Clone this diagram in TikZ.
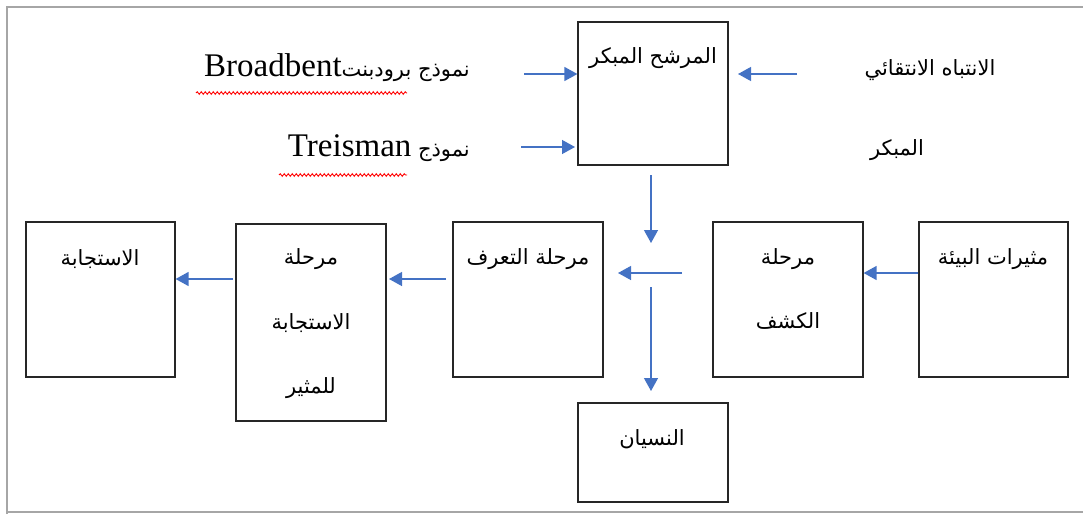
\documentclass[tikz,border=0pt]{standalone}
\usepackage{fontspec}
\setmainfont{Liberation Serif}
\newfontfamily\arabicfont[Script=Arabic]{DejaVu Sans}
\TeXXeTstate=1
\usetikzlibrary{arrows.meta,decorations.pathmorphing}
\definecolor{arrblue}{HTML}{4472C4}
\definecolor{framegray}{HTML}{A6A6A6}
\tikzset{
  box/.style={draw=black!85, line width=1.2pt, rectangle, inner sep=0pt},
  arr/.style={draw=arrblue, line width=1.3pt, -{Triangle[length=13pt,width=14pt]}},
  ar/.style={font=\arabicfont\fontsize{21}{26}\selectfont, inner sep=0pt},
  squiggle/.style={draw=red, line width=0.9pt, decorate, decoration={snake, amplitude=1.3pt, segment length=4pt}},
}
\begin{document}
\begin{tikzpicture}[x=1pt,y=-1pt]
\useasboundingbox (0,0) rectangle (1083,514);
% frame
\draw[framegray, line width=2pt] (7,514) -- (7,7) -- (1083,7);
\draw[framegray, line width=2pt] (7,512) -- (1083,512);
% boxes
\node[box, minimum width=150pt, minimum height=143pt] (filter) at (653,93.5) {};
\node[box, minimum width=149pt, minimum height=155pt] (resp) at (100.5,299.5) {};
\node[box, minimum width=150pt, minimum height=197pt] (rstim) at (311,322.5) {};
\node[box, minimum width=150pt, minimum height=155pt] (recog) at (528,299.5) {};
\node[box, minimum width=150pt, minimum height=155pt] (detect) at (788,299.5) {};
\node[box, minimum width=149pt, minimum height=155pt] (env) at (993.5,299.5) {};
\node[box, minimum width=150pt, minimum height=99pt] (forget) at (653,452.5) {};
% box texts
\node[ar] (tfilter) at (653,58) {\beginR المرشح المبكر\endR};
\node[ar] (tresp) at (100,259) {\beginR الاستجابة\endR};
\node[ar] (trs1) at (311,259) {\beginR مرحلة\endR};
\node[ar] (trs2) at (311,323) {\beginR الاستجابة\endR};
\node[ar] (trs3) at (311,388) {\beginR للمثير\endR};
\node[ar] (trecog) at (528,259) {\beginR مرحلة التعرف\endR};
\node[ar] (tdet1) at (788,259) {\beginR مرحلة\endR};
\node[ar] (tdet2) at (788,321) {\beginR الكشف\endR};
\node[ar] (tenv) at (993,259) {\beginR مثيرات البيئة\endR};
\node[ar] (tforget) at (652,439) {\beginR النسيان\endR};
% side texts
\node[ar, anchor=east] (tbroad) at (470,68) {\beginR نموذج برودبنت\beginL{\rmfamily\fontsize{33}{38}\selectfont Broadbent}\endL\endR};
\node[ar, anchor=east] (ttreis) at (470,148) {\beginR نموذج \beginL{\rmfamily\fontsize{33}{38}\selectfont Treisman}\endL\endR};
\node[ar] (tsel) at (930,70) {\beginR الانتباه الانتقائي\endR};
\node[ar] (tearly) at (897,150) {\beginR المبكر\endR};
% spell-check squiggles
\coordinate (sq1a) at (196,93);
\coordinate (sq1b) at (407,93);
\coordinate (sq2a) at (279,175);
\coordinate (sq2b) at (407,175);
\draw[squiggle] (sq1a) -- (sq1b);
\draw[squiggle] (sq2a) -- (sq2b);
% connectors
\coordinate (bA) at (524,74);
\draw[arr] (bA) -- (bA -| filter.west);
\coordinate (tA) at (521,147);
\coordinate (tB) at (575,147);
\draw[arr] (tA) -- (tB);
\coordinate (sA) at (797,74);
\coordinate (sB) at (738,74);
\draw[arr] (sA) -- (sB);
\coordinate (d1) at (651,175);
\coordinate (d2) at (651,243);
\draw[arr] (d1) -- (d2);
\coordinate (h1) at (682,273);
\coordinate (h2) at (618,273);
\draw[arr] (h1) -- (h2);
\coordinate (d3) at (651,287);
\coordinate (d4) at (651,391);
\draw[arr] (d3) -- (d4);
\draw[arr] (env.west |- h1) -- (detect.east |- h1);
\coordinate (r1) at (446,279);
\coordinate (r2) at (389,279);
\draw[arr] (r1) -- (r2);
\coordinate (r3) at (233,279);
\draw[arr] (r3) -- (resp.east |- r3);
\end{tikzpicture}
\end{document}
